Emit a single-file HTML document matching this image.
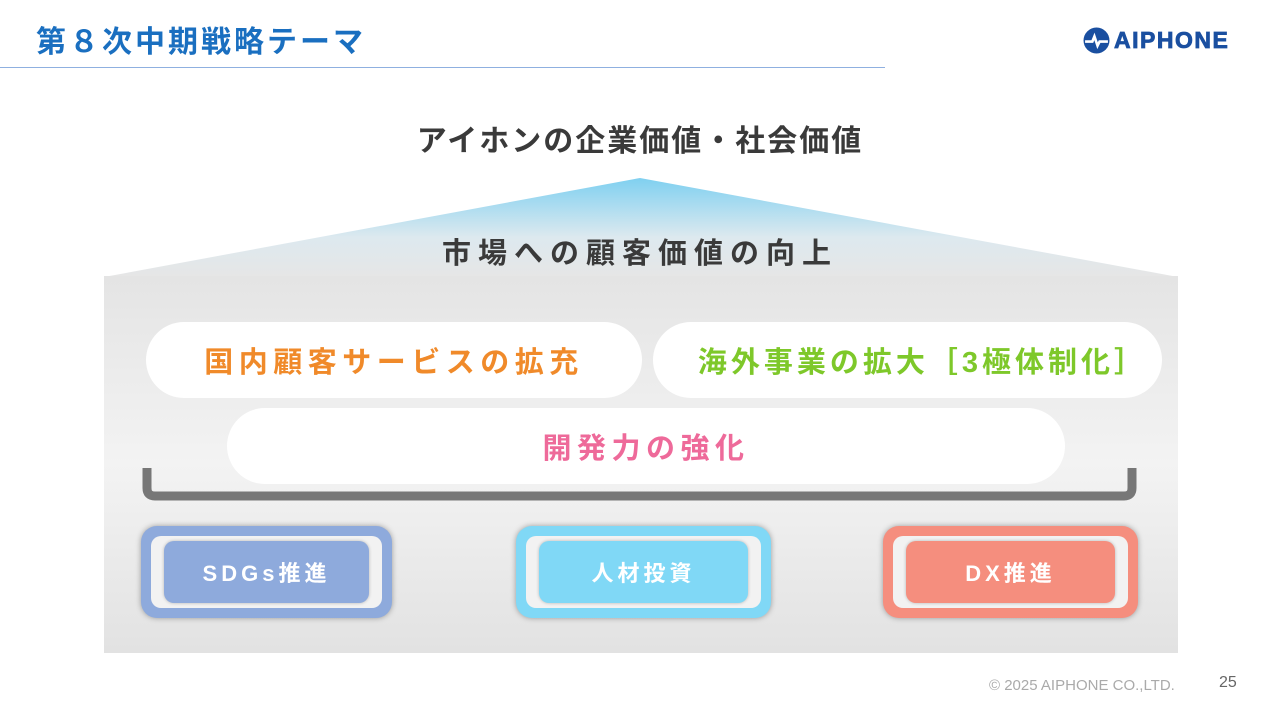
<!DOCTYPE html>
<html><head><meta charset="utf-8"><style>
body{margin:0;width:1280px;height:720px;background:#fff;position:relative;overflow:hidden;font-family:"Liberation Sans","Noto Sans CJK JP",sans-serif}
.a{position:absolute}
.pill{position:absolute;background:#fff;border-radius:38px;display:flex;align-items:center;justify-content:center;font-weight:bold;font-size:29px;letter-spacing:5.5px}
.box{position:absolute;border-radius:16px;box-shadow:0 0 6px rgba(0,0,0,.35)}
.ring{position:absolute;left:10px;top:10px;right:10px;bottom:10px;background:#f2f2f2;border-radius:10px}
.in{position:absolute;left:23px;top:15px;right:23px;bottom:15px;border-radius:10px;color:#fff;font-size:22px;font-weight:bold;letter-spacing:4px;display:flex;align-items:center;justify-content:center;box-shadow:0 0 3px rgba(0,0,0,.25)}
</style></head><body>
<div class="a" style="left:36px;top:17px;font-size:30px;font-weight:bold;color:#1a6fc0;letter-spacing:3px">第８次中期戦略テーマ</div>
<div class="a" style="left:0;top:67px;width:885px;height:1px;background:#8fb0e0"></div>
<div class="a" style="left:1083px;top:27px;display:flex;align-items:center">
<svg width="27" height="27" viewBox="0 0 26 26"><circle cx="13" cy="13" r="12.5" fill="#1a4fa0"/><path d="M2 14h7l2-5 3 9 2-4h8" stroke="#fff" stroke-width="2.5" fill="none"/></svg>
<span style="font-weight:900;font-size:23px;color:#1a4fa0;margin-left:4px;letter-spacing:1.5px;-webkit-text-stroke:0.8px #1a4fa0">AIPHONE</span></div>
<svg class="a" style="left:0;top:0" width="1280" height="720">
<defs>
<linearGradient id="r" x1="0" y1="0" x2="0" y2="1"><stop offset="0" stop-color="#7fd0f0"/><stop offset="0.6" stop-color="#dde9ef"/><stop offset="1" stop-color="#e6e6e6"/></linearGradient>
<linearGradient id="b" x1="0" y1="0" x2="0" y2="1"><stop offset="0" stop-color="#e4e4e4"/><stop offset="0.5" stop-color="#f3f3f3"/><stop offset="1" stop-color="#e2e2e2"/></linearGradient>
</defs>
<polygon points="104,277 640,178 1178,277" fill="url(#r)"/>
<rect x="104" y="276" width="1074" height="377" fill="url(#b)"/>
<path d="M147 468 V488 Q147 496 155 496 H1124 Q1132 496 1132 488 V468" stroke="#777" stroke-width="9" fill="none"/>
</svg>
<div class="a" style="left:0;width:1280px;top:116px;text-align:center;font-size:30px;font-weight:bold;color:#3a3a3a;letter-spacing:2px">アイホンの企業価値・社会価値</div>
<div class="a" style="left:0;width:1280px;top:230px;text-align:center;font-size:29px;font-weight:bold;color:#3a3a3a;letter-spacing:7px">市場への顧客価値の向上</div>
<div class="pill" style="left:146px;top:322px;width:496px;height:76px;color:#f08a2a">国内顧客サービスの拡充</div>
<div class="pill" style="left:653px;top:322px;width:509px;height:76px;color:#7ec82a;letter-spacing:4px;padding-left:30px;box-sizing:border-box">海外事業の拡大［3極体制化］</div>
<div class="pill" style="left:227px;top:408px;width:838px;height:76px;color:#ee6a9a">開発力の強化</div>
<div class="box" style="left:141px;top:526px;width:251px;height:92px;background:#8eaadc"><div class="ring"></div><div class="in" style="background:#8eaadc">SDGs推進</div></div>
<div class="box" style="left:516px;top:526px;width:255px;height:92px;background:#80d8f6"><div class="ring"></div><div class="in" style="background:#80d8f6">人材投資</div></div>
<div class="box" style="left:883px;top:526px;width:255px;height:92px;background:#f58e7e"><div class="ring"></div><div class="in" style="background:#f58e7e">DX推進</div></div>
<div class="a" style="left:989px;top:677px;font-size:15px;color:#aaa">© 2025 AIPHONE CO.,LTD.</div>
<div class="a" style="left:1219px;top:674px;font-size:16px;color:#666">25</div>
</body></html>
